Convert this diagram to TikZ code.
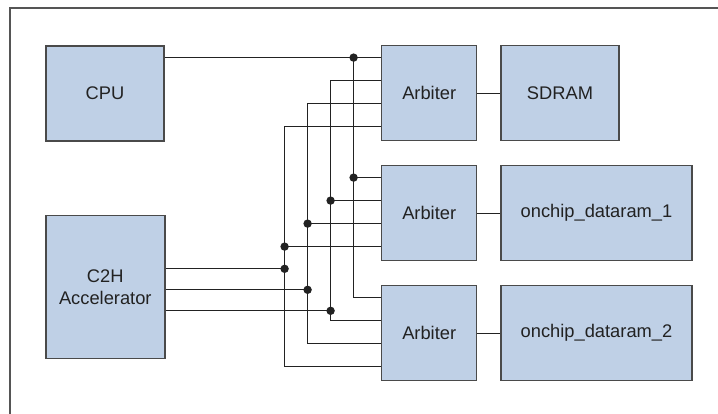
\documentclass[tikz,border=0pt]{standalone}
\usepackage{fontspec}
\setmainfont{Liberation Sans}
\usetikzlibrary{calc}
\definecolor{boxfill}{HTML}{BFD0E6}
\definecolor{boxline}{HTML}{4A4A4A}
\definecolor{wire}{HTML}{222222}
\definecolor{framecol}{HTML}{555555}
\begin{document}
\begin{tikzpicture}[x=1pt,y=-1pt,
  blk/.style={draw=boxline,fill=boxfill,line width=1.4pt,inner sep=0pt,
    text=wire,font=\fontsize{18.3}{22}\selectfont,align=center},
  wireline/.style={draw=wire,line width=1.2pt},
  junction/.style={fill=wire,circle,inner sep=0pt,minimum size=8.4pt}]
\useasboundingbox (0,0) rectangle (718,413);
% frame
\draw[framecol,line width=1.5pt] (10,420) -- (10,8) -- (725,8);
% blocks
\node[blk,minimum width=118pt,minimum height=95pt] (cpu) at (104.9,93.3) {CPU};
\node[blk,minimum width=119pt,minimum height=143pt] (c2h) at (105.3,287) {C2H\\Accelerator};
\node[blk,minimum width=95pt,minimum height=95pt] (arb1) at (429.2,93.2) {Arbiter};
\node[blk,minimum width=95pt,minimum height=95pt] (arb2) at (429.2,213.2) {Arbiter};
\node[blk,minimum width=95pt,minimum height=95pt] (arb3) at (429.2,333.2) {Arbiter};
\node[blk,minimum width=118pt,minimum height=95pt] (sdram) at (560,93.2) {SDRAM};
\node[blk,minimum width=191pt,minimum height=95pt] (ram1) at (596.5,213.2) {onchip\_dataram\_1};
\node[blk,minimum width=191pt,minimum height=95pt] (ram2) at (596.5,333.2) {onchip\_dataram\_2};
% arbiter to memory
\draw[wireline] (arb1.east) -- (sdram.west);
\draw[wireline] (arb2.east) -- (ram1.west);
\draw[wireline] (arb3.east) -- (ram2.west);
% input points and bus x positions
\foreach \k in {1,2,3}{
  \foreach \i in {1,2,3,4}{
    \coordinate (in\k\i) at ($(arb\k.north west)+(0,{12.6+23*(\i-1)})$);
  }
}
\foreach \i in {1,2,3,4}{
  \coordinate (bx\i) at ($(arb1.west)+({-27.4-23*(\i-1)},0)$);
}
% buses
\foreach \i in {1,2,3,4}{
  \draw[wireline] (in1\i) -- (bx\i |- in1\i) -- (bx\i |- in3\i) -- (in3\i);
  \draw[wireline] (bx\i |- in2\i) -- (in2\i);
  \node[junction] (j2\i) at (bx\i |- in2\i) {};
}
% CPU master
\draw[wireline] (cpu.east |- in11) -- (in11);
\node[junction] (jcpu) at (bx1 |- in11) {};
% C2H masters
\coordinate (c1) at ($(c2h.north east)+(0,54)$);
\coordinate (c2) at ($(c2h.north east)+(0,75)$);
\coordinate (c3) at ($(c2h.north east)+(0,96)$);
\draw[wireline] (c1) -- (bx4 |- c1);
\draw[wireline] (c2) -- (bx3 |- c2);
\draw[wireline] (c3) -- (bx2 |- c3);
\node[junction] (jc1) at (bx4 |- c1) {};
\node[junction] (jc2) at (bx3 |- c2) {};
\node[junction] (jc3) at (bx2 |- c3) {};
\end{tikzpicture}
\end{document}
